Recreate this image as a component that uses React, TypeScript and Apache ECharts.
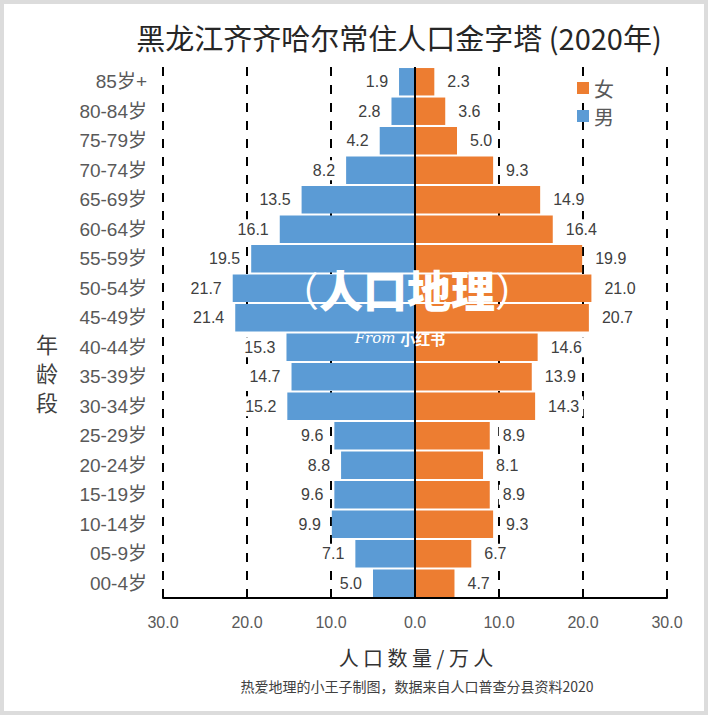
import React, { useEffect, useRef } from "react";
import * as echarts from "echarts";

const categories = [
  "85岁+", "80-84岁", "75-79岁", "70-74岁", "65-69岁", "60-64岁", "55-59岁", "50-54岁", "45-49岁",
  "40-44岁", "35-39岁", "30-34岁", "25-29岁", "20-24岁", "15-19岁", "10-14岁", "05-9岁", "00-4岁",
];
const maleValues = [1.9, 2.8, 4.2, 8.2, 13.5, 16.1, 19.5, 21.7, 21.4, 15.3, 14.7, 15.2, 9.6, 8.8, 9.6, 9.9, 7.1, 5.0];
const femaleValues = [2.3, 3.6, 5.0, 9.3, 14.9, 16.4, 19.9, 21.0, 20.7, 14.6, 13.9, 14.3, 8.9, 8.1, 8.9, 9.3, 6.7, 4.7];
const titleText = "黑龙江齐齐哈尔常住人口金字塔 (2020年)";
const xName = "人口数量/万人";
const yName = "年龄段";
const footer = "热爱地理的小王子制图，数据来自人口普查分县资料2020";

const SANS = '"Liberation Sans", "Noto Sans CJK SC", sans-serif';
const CJK = '"Noto Sans CJK SC", sans-serif';

export default function App() {
  const ref = useRef<HTMLDivElement>(null);
  useEffect(() => {
    if (!ref.current) return;
    const chart = echarts.init(ref.current, null, { renderer: "svg" });
    const labelCommon = {
      show: true,
      fontFamily: SANS,
      fontSize: 16,
      color: "#404040",
      backgroundColor: "#fff",
      padding: [2, 4, 2, 4],
      formatter: (p: any) => Math.abs(p.value).toFixed(1),
    };
    chart.setOption({
      animation: false,
      backgroundColor: "#fff",
      title: {
        text: titleText,
        left: 394,
        top: 17,
        textAlign: "center",
        textStyle: { fontFamily: CJK, fontSize: 29, fontWeight: "normal", color: "#262626" },
      },
      legend: {
        data: ["女", "男"],
        orient: "vertical",
        left: 572,
        top: 73,
        itemWidth: 12,
        itemHeight: 12,
        itemGap: 8,
        icon: "rect",
        textStyle: { fontFamily: CJK, fontSize: 20, color: "#595959" },
      },
      grid: { left: 163, right: 41, top: 67, bottom: 117 },
      xAxis: {
        type: "value",
        min: -30,
        max: 30,
        interval: 10,
        axisLine: { show: true, onZero: false, lineStyle: { color: "#000", width: 2 } },
        axisTick: { show: false },
        axisLabel: {
          margin: 16,
          fontFamily: SANS,
          fontSize: 16,
          color: "#595959",
          formatter: (v: number) => Math.abs(v).toFixed(1),
        },
        splitLine: { show: true, lineStyle: { color: "#000", width: 2, type: [9, 9] } },
      },
      yAxis: {
        type: "category",
        data: categories,
        inverse: true,
        axisLine: { show: false },
        axisTick: { show: false },
        axisLabel: { margin: 16, fontFamily: SANS, fontSize: 19, color: "#595959" },
      },
      series: [
        {
          name: "男",
          type: "bar",
          data: maleValues.map((v) => -v),
          barCategoryGap: "7%",
          barGap: "-100%",
          itemStyle: { color: "#5B9BD5" },
          label: { ...labelCommon, position: "left", distance: 7 },
          markLine: {
            silent: true,
            symbol: "none",
            label: { show: false },
            lineStyle: { color: "#000", width: 2, type: "solid" },
            data: [{ xAxis: 0 }],
            z: 10,
          },
        },
        {
          name: "女",
          type: "bar",
          data: femaleValues,
          barCategoryGap: "7%",
          barGap: "-100%",
          itemStyle: { color: "#ED7D31" },
          label: { ...labelCommon, position: "right", distance: 9 },
        },
      ],
      graphic: [
        {
          type: "rect",
          shape: { x: 2, y: 2, width: 704, height: 711 },
          style: { fill: "none", stroke: "#dcdcdc", lineWidth: 4 },
          silent: true,
        },
        {
          type: "text",
          x: 47,
          y: 372,
          style: {
            text: yName.split("").join("\n"),
            fontFamily: CJK,
            fontSize: 22,
            lineHeight: 29,
            fontWeight: "normal",
            fill: "#404040",
            align: "center",
            verticalAlign: "middle",
          },
        },
        {
          type: "text",
          x: 416,
          y: 657,
          style: {
            text: xName.split("").join(" "),
            fontFamily: CJK,
            fontSize: 20,
            fontWeight: "normal",
            fill: "#333",
            align: "center",
            verticalAlign: "middle",
          },
        },
        {
          type: "text",
          x: 417,
          y: 686,
          style: {
            text: footer,
            fontFamily: CJK,
            fontSize: 14,
            fill: "#404040",
            align: "center",
            verticalAlign: "middle",
          },
        },
        {
          type: "text",
          x: 407,
          y: 289,
          z: 100,
          style: {
            text: "{p|（}{b|人口地理}{p|）}",
            align: "center",
            verticalAlign: "middle",
            fill: "#fff",
            rich: {
              p: { fontFamily: CJK, fontSize: 40, fontWeight: "normal", fill: "#fff" },
              b: { fontFamily: CJK, fontSize: 44, fontWeight: 900, fill: "#fff" },
            },
          },
        },
        {
          type: "text",
          x: 400,
          y: 338,
          z: 100,
          style: {
            text: "{f|From }{c|小红书}",
            align: "center",
            verticalAlign: "middle",
            fill: "#fff",
            rich: {
              f: { fontFamily: '"DejaVu Serif", serif', fontStyle: "italic", fontSize: 15, fill: "#fff" },
              c: { fontFamily: CJK, fontWeight: "bold", fontSize: 15, fill: "#fff" },
            },
          },
        },
      ],
    });
    return () => chart.dispose();
  }, []);
  return (
    <div
      ref={ref}
      style={{ position: "fixed", left: 0, top: 0, width: 708, height: 715, background: "#fff" }}
    />
  );
}
